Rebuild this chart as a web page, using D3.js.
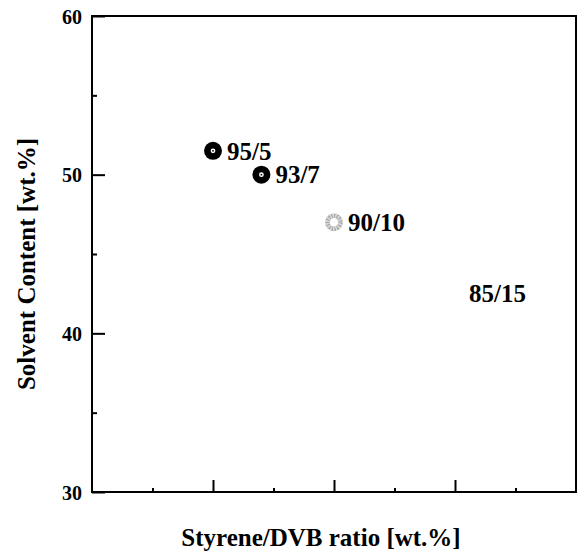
<!DOCTYPE html>
<html>
<head>
<meta charset="utf-8">
<script src="https://cdn.jsdelivr.net/npm/d3@7/dist/d3.min.js"></script>
<style>
  html, body { margin: 0; padding: 0; background: #fff; }
  svg { display: block; }
  text { font-family: "Liberation Serif", "Times New Roman", serif; font-weight: bold; fill: #000; }
</style>
</head>
<body>
<svg id="chart" width="581" height="556"></svg>
<script>
// Sample compositions (styrene/DVB) and measured solvent content
const sampleLabels = ["95/5", "93/7", "90/10", "85/15"];
const dvbContent = [5, 7, 10, 15];               // wt.% DVB
const solventContent = [51.5, 50.0, 47.0, 42.5]; // wt.%
const markerStyle = ["solid", "solid", "grey", "none"];

const yMajorTicks = [30, 40, 50, 60];
const yMinorTicks = [35, 45, 55];
const xMajorTicks = [5, 10, 15];
const xMinorTicks = [2.5, 7.5, 12.5, 17.5];

const xTitle = "Styrene/DVB ratio [wt.%]";
const yTitle = "Solvent Content [wt.%]";

const svg = d3.select("#chart");
const margin = { left: 92, right: 5, top: 16, bottom: 64 };
const W = 581, H = 556;

const x = d3.scaleLinear().domain([0, 20]).range([margin.left, W - margin.right]);
const y = d3.scaleLinear().domain([30, 60]).range([H - margin.bottom, margin.top]);

// Y axis: major ticks with labels, minor ticks without, all pointing inward
const yAxis = svg.append("g")
  .attr("transform", `translate(${x(0)},0)`)
  .call(d3.axisLeft(y).tickValues(yMajorTicks).tickSize(-13).tickSizeOuter(0).tickPadding(10).tickFormat(d3.format("d")));
yAxis.selectAll("text").style("font-size", "20px").attr("dy", "0.35em");
svg.append("g")
  .attr("transform", `translate(${x(0)},0)`)
  .call(d3.axisLeft(y).tickValues(yMinorTicks).tickSize(-5).tickSizeOuter(0).tickFormat(""));

// X axis: ticks only, pointing inward
svg.append("g")
  .attr("transform", `translate(0,${y(30)})`)
  .call(d3.axisBottom(x).tickValues(xMajorTicks).tickSize(-12).tickSizeOuter(0).tickFormat(""));
svg.append("g")
  .attr("transform", `translate(0,${y(30)})`)
  .call(d3.axisBottom(x).tickValues(xMinorTicks).tickSize(-4).tickSizeOuter(0).tickFormat(""));

svg.selectAll(".tick line").attr("stroke", "#000").attr("stroke-width", 2);
svg.selectAll(".domain").attr("stroke", "none");

// Plot frame
svg.append("rect")
  .attr("x", x(0)).attr("y", y(60))
  .attr("width", x(20) - x(0)).attr("height", y(30) - y(60))
  .attr("fill", "none").attr("stroke", "#000").attr("stroke-width", 2);

// Data points
const pts = sampleLabels.map((l, i) => ({ label: l, dvb: dvbContent[i], sol: solventContent[i], style: markerStyle[i] }));

const g = svg.append("g");
pts.forEach(d => {
  const cx = x(d.dvb), cy = y(d.sol);
  if (d.style === "solid") {
    g.append("circle").attr("cx", cx).attr("cy", cy).attr("r", 9).attr("fill", "#000");
    g.append("circle").attr("cx", cx).attr("cy", cy).attr("r", 2.4).attr("fill", "#fff");
    g.append("circle").attr("cx", cx).attr("cy", cy).attr("r", 0.9).attr("fill", "#000");
  } else if (d.style === "grey") {
    g.append("circle").attr("cx", cx).attr("cy", cy).attr("r", 6.5)
      .attr("fill", "none").attr("stroke", "#a8a8a8").attr("stroke-width", 4.5)
      .attr("stroke-dasharray", "1.6 1.1");
    g.append("circle").attr("cx", cx).attr("cy", cy).attr("r", 6.5)
      .attr("fill", "none").attr("stroke", "#cfcfcf").attr("stroke-width", 5)
      .attr("stroke-dasharray", "1 1.7").attr("stroke-dashoffset", 1.2);
  }
  g.append("text")
    .attr("x", cx + 14).attr("y", cy).attr("dy", "0.35em")
    .style("font-size", "25px")
    .text(d.label);
});

// Axis titles
svg.append("text")
  .attr("x", 321).attr("y", 546)
  .attr("text-anchor", "middle")
  .style("font-size", "25px")
  .text(xTitle);

svg.append("text")
  .attr("transform", `translate(35,264) rotate(-90)`)
  .attr("text-anchor", "middle")
  .style("font-size", "25px")
  .text(yTitle);
</script>
</body>
</html>
